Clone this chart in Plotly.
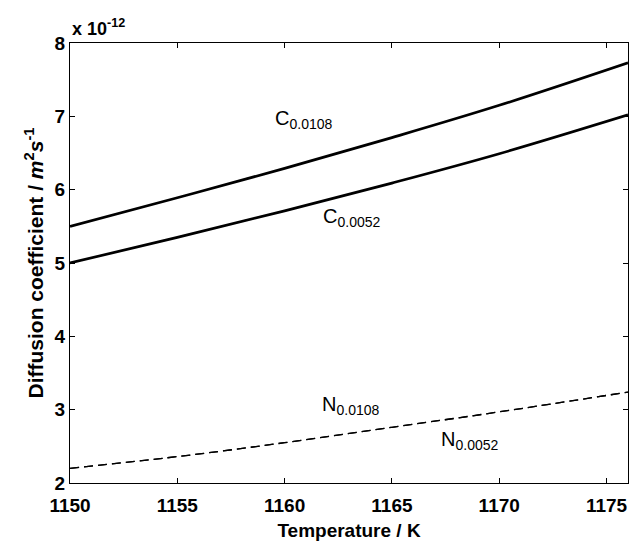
import plotly.graph_objects as go

# Temperature (K) and diffusion coefficients (units of 1e-12 m^2/s)
temperature = [1150, 1155, 1160, 1165, 1170, 1176]
c_0108 = [5.50, 5.89, 6.29, 6.71, 7.15, 7.73]
c_0052 = [5.00, 5.35, 5.71, 6.09, 6.49, 7.02]
n_0108 = [2.20, 2.36, 2.55, 2.76, 2.97, 3.24]
n_0052 = [2.20, 2.36, 2.55, 2.76, 2.97, 3.24]

x_ticks = [1150, 1155, 1160, 1165, 1170, 1175]
y_ticks = [2, 3, 4, 5, 6, 7, 8]

FONT = "Liberation Sans, Arial, sans-serif"

fig = go.Figure()
fig.add_trace(go.Scatter(x=temperature, y=c_0108, mode="lines", line_shape="spline",
                         line=dict(color="black", width=2.7), name="C 0.0108"))
fig.add_trace(go.Scatter(x=temperature, y=c_0052, mode="lines", line_shape="spline",
                         line=dict(color="black", width=2.7), name="C 0.0052"))
fig.add_trace(go.Scatter(x=temperature, y=n_0108, mode="lines", line_shape="spline",
                         line=dict(color="black", width=1.3, dash="9px,5px"), name="N 0.0108"))
fig.add_trace(go.Scatter(x=temperature, y=n_0052, mode="lines", line_shape="spline",
                         line=dict(color="black", width=1.3, dash="9px,5px"), name="N 0.0052"))

labels = [
    ("C<sub>0.0108</sub>", 1159.45, 6.96),
    ("C<sub>0.0052</sub>", 1161.70, 5.62),
    ("N<sub>0.0108</sub>", 1161.65, 3.06),
    ("N<sub>0.0052</sub>", 1167.20, 2.585),
]
for text, x, y in labels:
    fig.add_annotation(x=x, y=y, text=text, showarrow=False, xanchor="left",
                       yanchor="middle", font=dict(family=FONT, size=20, color="black"))

fig.add_annotation(xref="paper", yref="paper", x=0, y=1, xanchor="left", yanchor="bottom",
                   text="x 10<sup>-12</sup>", showarrow=False, yshift=2,
                   font=dict(family=FONT, size=18, color="black", weight="bold"))

axis_common = dict(showgrid=False, zeroline=False, showline=True, linecolor="black",
                   linewidth=1, mirror="ticks", ticks="inside", ticklen=5,
                   tickcolor="black", tickwidth=1)

fig.update_xaxes(range=[1150, 1176], tickvals=x_ticks, ticklabelstandoff=5,
                 tickfont=dict(family=FONT, size=19, color="black", weight="bold"),
                 title=dict(text="Temperature / K", standoff=8,
                            font=dict(family=FONT, size=19, color="black", weight="bold")),
                 **axis_common)
fig.update_yaxes(range=[2, 8], tickvals=y_ticks,
                 tickfont=dict(family=FONT, size=19, color="black", weight="bold"),
                 title=dict(text="Diffusion coefficient / <i>m</i><sup>2</sup><i>s</i><sup>-1</sup>",
                            standoff=5,
                            font=dict(family=FONT, size=21, color="black", weight="bold")),
                 **axis_common)

fig.update_layout(width=631, height=543, showlegend=False,
                  plot_bgcolor="white", paper_bgcolor="white",
                  margin=dict(l=70, r=3, t=43, b=60))

fig.write_html("out.html")
